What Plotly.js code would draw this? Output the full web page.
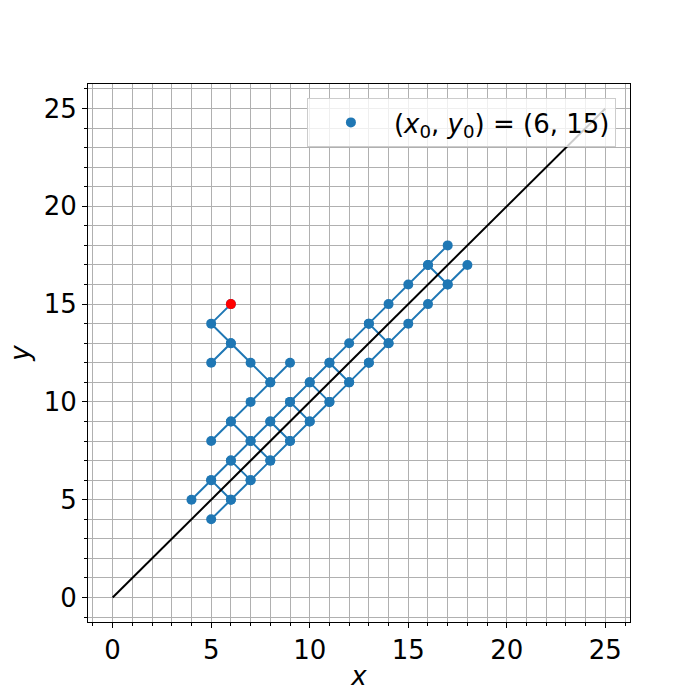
<!DOCTYPE html>
<html>
<head>
<meta charset="utf-8">
<script src="https://cdn.plot.ly/plotly-3.0.1.min.js"></script>
<style>body{margin:0;background:#fff}#chart{width:700px;height:700px}</style>
</head>
<body>
<div id="chart"></div>
<script>
// Walk path (x, y), starting point (6, 15)
const pathX = [6,5,6,5,6,7,8,9,8,7,6,5,6,7,6,5,4,5,6,5,6,7,6,7,8,7,8,9,8,9,10,9,8,9,10,11,10,11,12,11,10,11,12,13,14,13,12,13,14,15,16,17,18,17,16,17,16,15,14,13];
const pathY = [15,14,13,12,13,12,11,12,11,10,9,8,9,8,7,6,5,6,5,4,5,6,7,6,7,8,9,8,7,8,9,10,9,10,11,10,9,10,11,12,11,12,13,14,13,12,11,12,13,14,15,16,17,16,17,18,17,16,15,14];
const startX = [6];
const startY = [15];
const diagX = [0, 25];
const diagY = [0, 25];
const legendLabel = "(<i>x</i><sub>0</sub>, <i>y</i><sub>0</sub>) = (6, 15)";

const blue = "#1f77b4";
const traces = [
  {x: pathX, y: pathY, mode: "lines", line: {color: blue, width: 2}, showlegend: false, hoverinfo: "skip"},
  {x: pathX, y: pathY, mode: "markers", marker: {color: blue, size: 10}, name: legendLabel, showlegend: true},
  {x: startX, y: startY, mode: "markers", marker: {color: "red", size: 10}, showlegend: false},
  {x: diagX, y: diagY, mode: "lines", line: {color: "black", width: 2}, showlegend: false}
];

const axisCommon = {
  range: [-1.25, 26.25],
  dtick: 5, tick0: 0,
  ticks: "outside", ticklen: 5, tickwidth: 1, tickcolor: "black",
  showgrid: true, gridcolor: "#b0b0b0", gridwidth: 1,
  minor: {dtick: 1, showgrid: true, gridcolor: "#b0b0b0", gridwidth: 1, ticks: "outside", ticklen: 3, tickcolor: "black"},
  showline: true, linecolor: "black", linewidth: 1, mirror: true,
  zeroline: false,
  tickfont: {family: "DejaVu Sans", size: 26, color: "black"}
};

const layout = {
  width: 700, height: 700,
  margin: {l: 88, r: 70, t: 84, b: 78},
  paper_bgcolor: "white", plot_bgcolor: "white",
  font: {family: "DejaVu Sans", color: "black"},
  xaxis: Object.assign({}, axisCommon, {title: {text: "<i>x</i>", font: {size: 26, family: "DejaVu Sans"}, standoff: 2}}),
  yaxis: Object.assign({}, axisCommon, {title: {text: "<i>y</i>", font: {size: 26, family: "DejaVu Sans"}, standoff: 6}}),
  legend: {
    x: 0.974, y: 0.974, xanchor: "right", yanchor: "top",
    bgcolor: "rgba(255,255,255,0.8)", bordercolor: "#cccccc", borderwidth: 1,
    font: {family: "DejaVu Sans", size: 26, color: "black"},
    itemwidth: 76
  },
  showlegend: true
};

Plotly.newPlot("chart", traces, layout, {displayModeBar: false, staticPlot: true});
</script>
</body>
</html>
